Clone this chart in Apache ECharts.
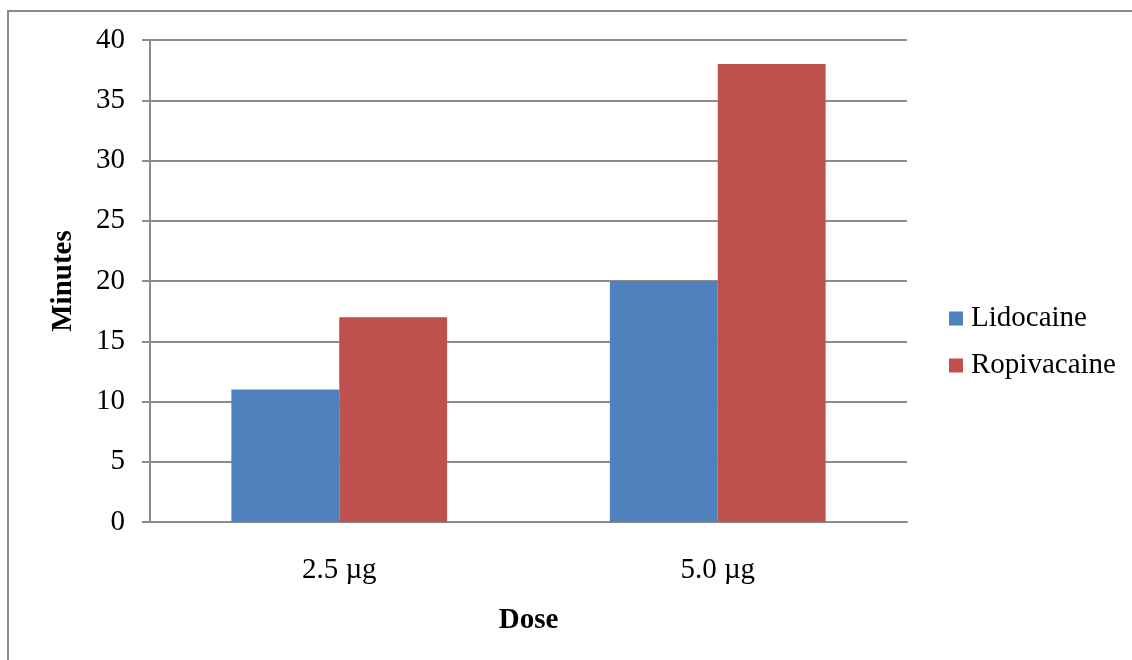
<!DOCTYPE html>
<html>
<head>
<meta charset="utf-8">
<script src="https://cdn.jsdelivr.net/npm/echarts@6/dist/echarts.min.js"></script>
<style>
  html, body { margin: 0; padding: 0; background: #fff; }
  #chart { width: 1132px; height: 660px; }
</style>
</head>
<body>
<div id="chart"></div>
<script>
// data
const doses = ['2.5 µg', '5.0 µg'];
const lidocaine = [11, 20];
const ropivacaine = [17, 38];

document.addEventListener('DOMContentLoaded', function() {
    const chart = echarts.init(document.getElementById('chart'));
    const font = '"Liberation Serif", "Times New Roman", serif';
    const option = {
        animation: false,
        textStyle: { fontFamily: font },
        grid: { left: 150, right: 225, top: 40, bottom: 138 },
        graphic: [
            { type: 'line', shape: { x1: 8, y1: 11, x2: 1132, y2: 11 }, style: { stroke: '#8c8c8c', lineWidth: 2 } },
            { type: 'line', shape: { x1: 8, y1: 10, x2: 8, y2: 660 }, style: { stroke: '#8c8c8c', lineWidth: 2 } }
        ],
        legend: {
            orient: 'vertical',
            left: 944,
            top: 299,
            itemWidth: 14,
            itemHeight: 14,
            itemGap: 18,
            icon: 'rect',
            textStyle: { fontFamily: font, fontSize: 29, color: '#000', padding: [0, 0, 0, 3] },
            data: ['Lidocaine', 'Ropivacaine']
        },
        xAxis: {
            type: 'category',
            data: doses,
            name: 'Dose',
            nameLocation: 'middle',
            nameGap: 84,
            nameTextStyle: { fontFamily: font, fontSize: 29, fontWeight: 'bold', color: '#000' },
            axisLine: { lineStyle: { color: '#8c8c8c', width: 2 } },
            axisTick: { show: false },
            axisLabel: { fontFamily: font, fontSize: 29, color: '#000', margin: 34 }
        },
        yAxis: {
            type: 'value',
            min: 0,
            max: 40,
            interval: 5,
            name: 'Minutes',
            nameLocation: 'middle',
            nameGap: 72,
            nameTextStyle: { fontFamily: font, fontSize: 29, fontWeight: 'bold', color: '#000' },
            axisLine: { show: true, lineStyle: { color: '#8c8c8c', width: 2 } },
            axisTick: { show: true, length: 8, lineStyle: { color: '#8c8c8c', width: 2 } },
            axisLabel: { fontFamily: font, fontSize: 29, color: '#000', margin: 25 },
            splitLine: { lineStyle: { color: '#8c8c8c', width: 2 } }
        },
        series: [
            {
                name: 'Lidocaine',
                type: 'bar',
                barWidth: '28.5%',
                barGap: '0%',
                itemStyle: { color: '#4F81BD' },
                data: lidocaine
            },
            {
                name: 'Ropivacaine',
                type: 'bar',
                barWidth: '28.5%',
                barGap: '0%',
                itemStyle: { color: '#C0504D' },
                data: ropivacaine
            }
        ]
    };
    chart.setOption(option);
});
</script>
</body>
</html>
